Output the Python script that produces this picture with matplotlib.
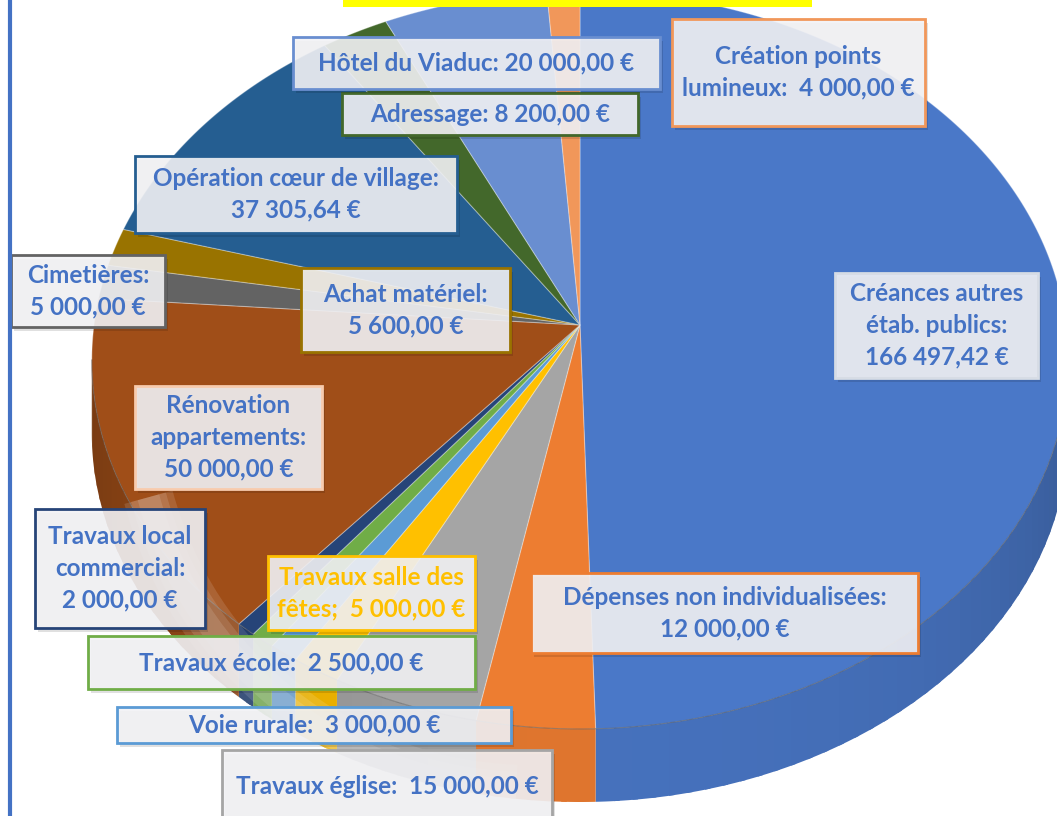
import numpy as np
import matplotlib.pyplot as plt
from matplotlib.patches import Rectangle, Arc
from matplotlib.colors import to_rgb

# Budget lines (clockwise from 12 o'clock)
categories = ["Créances autres étab. publics", "Dépenses non individualisées",
              "Travaux église", "Travaux salle des fêtes", "Voie rurale",
              "Travaux école", "Travaux local commercial", "Rénovation appartements",
              "Cimetières", "Achat matériel", "Opération cœur de village",
              "Adressage", "Hôtel du Viaduc", "Création points lumineux"]
amounts = [166497.42, 12000.00, 15000.00, 5000.00, 3000.00, 2500.00, 2000.00,
           50000.00, 5000.00, 5600.00, 37305.64, 8200.00, 20000.00, 4000.00]
slice_colors = ["#4A78C8", "#ED7D31", "#A5A5A5", "#FFC000", "#5B9BD5", "#70AD47",
                "#264478", "#A04E18", "#636363", "#997300", "#255E91", "#43682B",
                "#698ED0", "#F1975A"]

# label wording (line breaks as in the original)
label_templates = ["Créances autres\nétab. publics:\n{}", "Dépenses non individualisées:\n{}",
                   "Travaux église:  {}", "Travaux salle des\nfêtes;  {}", "Voie rurale:  {}",
                   "Travaux école:  {}", "Travaux local\ncommercial:\n{}",
                   "Rénovation\nappartements:\n{}", "Cimetières:\n{}", "Achat matériel:\n{}",
                   "Opération cœur de village:\n{}", "Adressage: {}",
                   "Hôtel du Viaduc: {}", "Création points\nlumineux:  {}"]

# label box layout in pixels (x0, y0, x1, y1)
boxes = [(835, 273, 1038, 378), (531, 573, 918, 653), (222, 750, 552, 830),
         (268, 556, 475, 630), (117, 707, 511, 743), (88, 636, 475, 689),
         (35, 509, 205, 628), (135, 386, 322, 489), (11, 255, 165, 327),
         (301, 268, 510, 352), (135, 156, 457, 233), (342, 93, 638, 135),
         (293, 37, 660, 89), (672, 19, 925, 126)]
box_edges = ["#D6DCE5", "#ED7D31", "#A5A5A5", "#FFC000", "#5B9BD5", "#70AD47",
             "#264478", "#F8CBAD", "#636363", "#997300", "#255E91", "#43682B",
             "#698ED0", "#F1975A"]
text_colors = ["#4472C4"] * 14
text_colors[3] = "#FFC000"

W, H = 1057, 816
CX, CY = 580, 360          # centre of the drawn ellipse (pixels)
A, B = 486, 369            # half axes of the disc in pixels
LIFT = 35                  # pie centre shows 35 px above the ellipse centre
K = LIFT / B               # perspective factor
DEPTH = 73


def euro(v):
    s = f"{v:,.2f}".replace(",", " ").replace(".", ",")
    return s + " €"


def shade(c, f):
    r, g, b = to_rgb(c)
    return (r * f, g * f, b * f)


def project(theta_deg):
    t = np.radians(theta_deg)
    x, y = np.cos(t), np.sin(t)
    d = 1 + K * y
    return A * x / d, (B * y + LIFT) / d


fig = plt.figure(figsize=(W / 100, H / 100), dpi=100)
ax = fig.add_axes([0, 0, 1, 1])
ax.set_xlim(-CX, W - CX)
ax.set_ylim(-(H - CY), CY)
ax.axis("off")

vals = np.array(amounts)
frac = vals / vals.sum()
bounds = 90 - 360 * np.concatenate([[0], np.cumsum(frac)])
edge_lim = np.degrees(np.arcsin(K))

# side wall (front half only)
for i, col in enumerate(slice_colors):
    lo, hi = max(bounds[i + 1], -180 + edge_lim), min(bounds[i], -edge_lim)
    if lo >= hi:
        continue
    cuts = np.linspace(lo, hi, max(2, int((hi - lo) / 2) + 2))
    for a, b in zip(cuts[:-1], cuts[1:]):
        px, py = project(np.linspace(a, min(b + 0.6, hi), 6))
        xs = np.concatenate([px, px[::-1]])
        ys = np.concatenate([py, (py - DEPTH)[::-1]])
        f = 0.72 + 0.22 * abs(np.sin(np.radians((a + b) / 2)))
        ax.fill(xs, ys, color=shade(col, f), lw=0, zorder=1)

front = np.linspace(-180 + edge_lim, -edge_lim, 300)
fx, fy = project(front)
ax.plot(fx, fy, color=(0, 0, 0, 0.35), lw=0.8, zorder=3)

# top surface
for i, col in enumerate(slice_colors):
    px, py = project(np.linspace(bounds[i], bounds[i + 1], 200))
    xs = np.concatenate([[0], px])
    ys = np.concatenate([[LIFT], py])
    ax.fill(xs, ys, color=col, ec=(1, 1, 1, 0.3), lw=0.8, zorder=2)

# overlay in pixel coordinates for frame, title bar and labels
lay = fig.add_axes([0, 0, 1, 1])
lay.set_xlim(0, W)
lay.set_ylim(H, 0)
lay.axis("off")
lay.patch.set_alpha(0)

# soft glossy reflection across the lower left
for lw in (36, 26, 16):
    lay.add_patch(Arc((530, 395), 790, 790, theta1=92, theta2=165,
                      color="white", alpha=0.12, lw=lw))

lay.add_patch(Rectangle((343, -2), 469, 9, color="#FFFF00", lw=0))
lay.plot([10, 10], [0, H], color="#4472C4", lw=3)

for i in range(len(categories)):
    x0, y0, x1, y1 = boxes[i]
    lay.add_patch(Rectangle((x0 + 3, y0 + 4), x1 - x0, y1 - y0,
                            fc=(0, 0, 0, 0.12), ec="none"))
    lay.add_patch(Rectangle((x0, y0), x1 - x0, y1 - y0,
                            fc=(0.95, 0.95, 0.96, 0.9), ec=box_edges[i], lw=2))
    ty = (y0 + y1) / 2 if i != 2 else 786
    lay.text((x0 + x1) / 2, ty, label_templates[i].format(euro(amounts[i])),
             ha="center", va="center", ma="center", color=text_colors[i],
             fontsize=17.5, fontweight="bold", linespacing=1.45,
             family=["Lato", "DejaVu Sans"])

fig.savefig("out.png", dpi=100)
